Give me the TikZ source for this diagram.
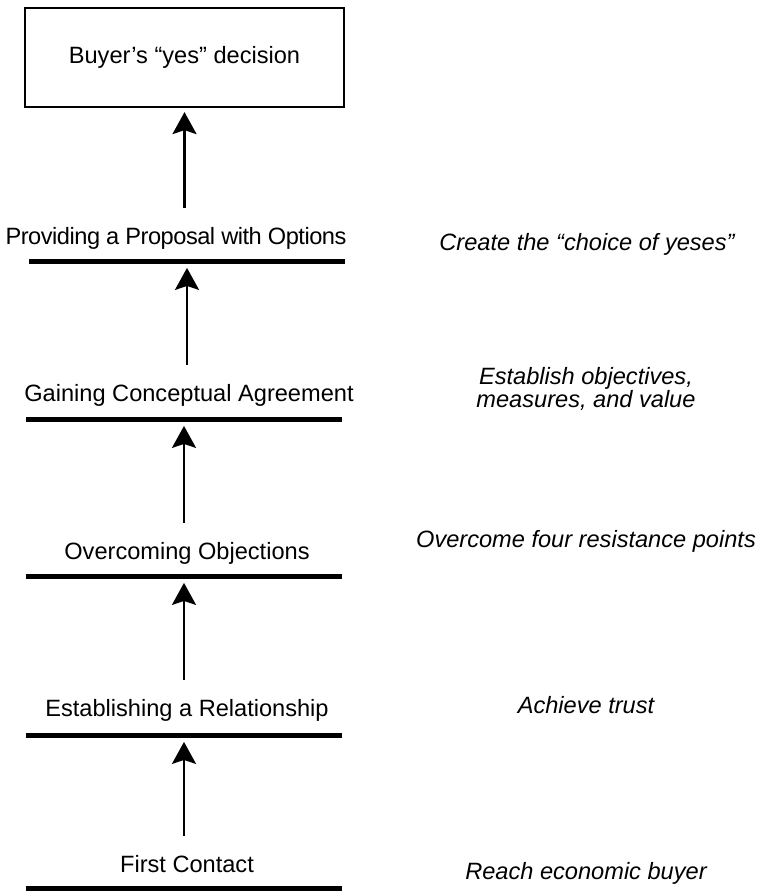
\documentclass[tikz,border=0pt]{standalone}
\usepackage{fontspec}
\setmainfont{Liberation Sans}
\usetikzlibrary{arrows.meta}
\tikzset{%
	stage/.style = { anchor=base, inner sep=0pt, text height=9pt, text depth=2.5pt },
	aim/.style = { anchor=base, inner sep=0pt, align=center, font=\fontsize{11.8pt}{11.5pt}\selectfont\itshape },
	barline/.style = { fill=black, inner sep=0pt, minimum width=158pt, minimum height=2.5pt },
	decision/.style = { draw, line width=1.1pt, minimum width=159.5pt, minimum height=49.5pt },
	upflow/.style = { -{Stealth[length=11pt,width=12pt,inset=2pt]}, line width=1.2pt, shorten <=9pt, shorten >=2pt }
}
\begin{document}
\begin{tikzpicture}[x=0.5pt, y=-0.5pt, every node/.style={font=\fontsize{11.8pt}{11.5pt}\selectfont}]
	\useasboundingbox (0,0) rectangle (762,891);
	% Entscheidung oben
	\node[decision] (buyer) at (184.5,57.5) {Buyer’s “yes” decision};

	% Stufen links mit Balken
	\node[stage] (prop) at (176,244) {\addfontfeature{LetterSpace=-2}Providing a Proposal with Options};
	\node[barline] (bar1) at (187,261) {};
	\node[stage] (gain) at (189,401) {Gaining Conceptual Agreement};
	\node[barline] (bar2) at (184,419) {};
	\node[stage] (obj) at (187,559) {Overcoming Objections};
	\node[barline] (bar3) at (184,576) {};
	\node[stage] (rel) at (187,716) {Establishing a Relationship};
	\node[barline] (bar4) at (184,735) {};
	\node[stage] (first) at (187,872) {First Contact};
	\node[barline] (bar5) at (184,888) {};

	% Ziele rechts
	\node[aim] (aimprop) at (587,250) {Create the “choice of yeses”};
	\node[aim] (aimgain) at (586,407) {Establish objectives,\\measures, and value};
	\node[aim] (aimobj) at (586,547) {Overcome four resistance points};
	\node[aim] (aimrel) at (586,713) {Achieve trust};
	\node[aim] (aimfirst) at (586,879) {Reach economic buyer};

	% Pfeile nach oben
	\draw[upflow] (buyer.south |- prop.north) -- (buyer.south);
	\draw[upflow] (bar1.south |- gain.north) -- (bar1.south);
	\draw[upflow] (bar2.south |- obj.north) -- (bar2.south);
	\draw[upflow] (bar3.south |- rel.north) -- (bar3.south);
	\draw[upflow] (bar4.south |- first.north) -- (bar4.south);
\end{tikzpicture}
\end{document}
